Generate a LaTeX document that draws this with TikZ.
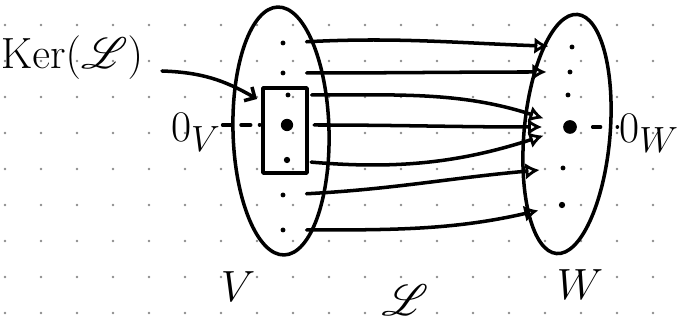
\documentclass[tikz,border=0pt]{standalone}
\usepackage{amsmath}
\usepackage{mathrsfs}
\usetikzlibrary{arrows.meta}
\definecolor{murekkep}{HTML}{000000}
\definecolor{noktaGri}{HTML}{8C8C8C}

\begin{document}
\begin{tikzpicture}[x=0.02cm,y=-0.02cm,line width=2pt,line cap=round,line join=round,
  nokta/.style={circle,fill=murekkep,inner sep=0pt,minimum size=2.8pt},
  sifir/.style={circle,fill=murekkep,inner sep=0pt,minimum size=7pt},
  eslem/.style={-{Latex[open,length=8pt,width=9.5pt]},shorten <=11pt,shorten >=11pt},
  yazi/.style={inner sep=0pt,text=murekkep}]
\useasboundingbox (0,0) rectangle (684,333);
% Nokta izgarasi
\foreach \i in {0,...,18}
  \foreach \j in {0,...,8}
    \fill[noktaGri] (5+36*\i,25+36*\j) circle (0.8pt);
% V kumesi
\draw[murekkep] (281,131) ellipse [x radius=48, y radius=124, rotate=1.5];
\node[draw,inner sep=0pt,minimum width=0.88cm,minimum height=1.7cm] (kerKutu) at (285,130.5) {};
\node[nokta] (v1) at (283,43) {};
\node[nokta] (v2) at (283,73) {};
\node[nokta] (v3) at (288,95) {};
\node[sifir] (v4) at (287,125) {};
\node[nokta,minimum size=3.6pt] (v5) at (287,160) {};
\node[nokta] (v6) at (283,195) {};
\node[nokta] (v7) at (283,230) {};
% W kumesi
\draw[murekkep] (567,134) ellipse [x radius=43, y radius=120, rotate=-5];
\node[nokta] (w1) at (572,47) {};
\node[nokta] (w2) at (570,72) {};
\node[nokta] (w3) at (568,95) {};
\node[sifir,minimum size=7.8pt] (w0) at (570,127) {};
\node[nokta] (w5) at (563,168) {};
\node[nokta,minimum size=3.6pt] (w6) at (562,205) {};
% Etiketler
\node[yazi,font=\fontsize{24}{24}\selectfont] (kerYazi) at (72,58) {$\mathrm{Ker}(\mathscr{L})$};
\node[yazi,font=\fontsize{28}{28}\selectfont] (ov) at (196,132) {$0_V$};
\node[yazi,font=\fontsize{28}{28}\selectfont] (ow) at (649,133) {$0_W$};
\node[yazi,font=\fontsize{32}{32}\selectfont] (vAd) at (238,287) {$V$};
\node[yazi,font=\fontsize{32}{32}\selectfont] (wAd) at (580,285) {$W$};
\node[yazi,font=\fontsize{36}{36}\selectfont] (lAd) at (405,300) {$\mathscr{L}$};
% Sifir vektorleri
\draw[dash pattern=on 5.5pt off 5pt,shorten >=11pt] (ov.east |- v4) -- (v4);
\draw[dash pattern=on 4.5pt off 9.5pt on 8pt off 1pt,shorten <=8pt] (w0) -- (ow.west |- w0);
% Cekirdek oku
\coordinate (kerBas) at (162,71);
\coordinate (kerUc) at (257,99);
\draw[-{Straight Barb[length=4.5pt,width=9pt]}] (kerBas) to[out=-2,in=150] (kerUc);
% Eslemeler
\draw[eslem] (v1) to[out=3,in=178] (w1);
\draw[eslem] (v2) to[out=0,in=180] (w2);
\draw[eslem] (v3) to[out=0,in=162] (w0);
\draw[eslem] (v4) to[out=0,in=180] (w0);
\draw[eslem] (v5) to[out=-5,in=198] (w0);
\draw[eslem] (v6) to[out=3,in=185] (w5);
\draw[eslem] (v7) to[out=0,in=193] (w6);
\end{tikzpicture}
\end{document}
